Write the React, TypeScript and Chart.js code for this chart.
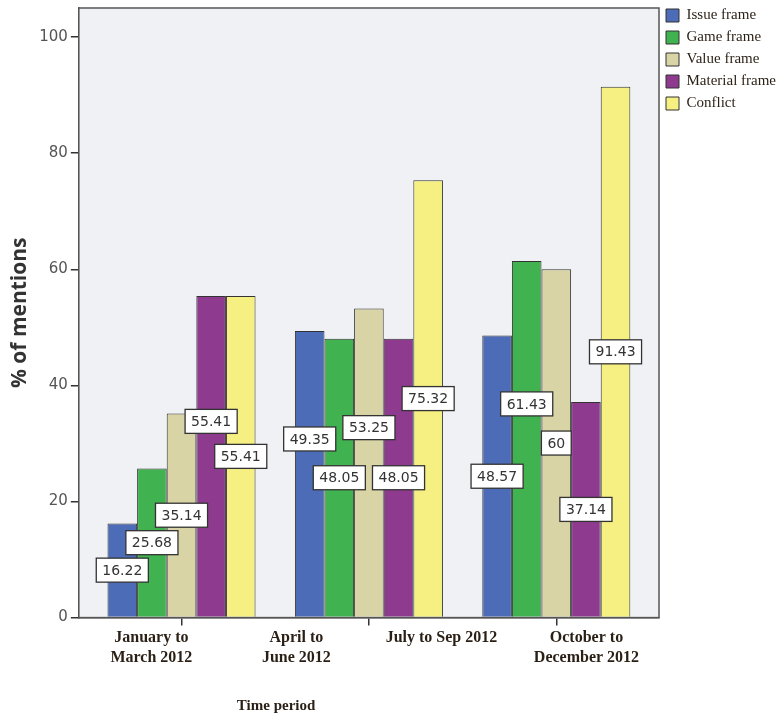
import React, { useEffect, useRef } from 'react';
import { Chart, registerables } from 'chart.js';

Chart.register(...registerables);

// ---- data ----
const periodLabels: string[][] = [
  ['January to', 'March 2012'],
  ['April to', 'June 2012'],
  ['July to Sep 2012'],
  ['October to', 'December 2012'],
];
const groupIndex = [0, 1, 2];
const seriesNames = ['Issue frame', 'Game frame', 'Value frame', 'Material frame', 'Conflict'];
const issueFrame = [16.22, 49.35, 48.57];
const gameFrame = [25.68, 48.05, 61.43];
const valueFrame = [35.14, 53.25, 60];
const materialFrame = [55.41, 48.05, 37.14];
const conflict = [55.41, 75.32, 91.43];
const yTicks = [0, 20, 40, 60, 80, 100];

const seriesValues = [issueFrame, gameFrame, valueFrame, materialFrame, conflict];
const seriesColors = ['#4c6cb7', '#41b250', '#d9d4a5', '#8e3b8f', '#f6ef82'];

const plotFrame = {
  id: 'plotFrame',
  beforeDatasetsDraw(chart: any) {
    const { ctx, chartArea: a } = chart;
    ctx.save();
    ctx.fillStyle = '#eff1f4';
    ctx.fillRect(a.left, a.top, a.right - a.left, a.bottom - a.top);
    ctx.restore();
  },
  afterDatasetsDraw(chart: any) {
    const { ctx, chartArea: a } = chart;
    ctx.save();
    ctx.strokeStyle = '#555';
    ctx.lineWidth = 1.5;
    ctx.strokeRect(a.left, a.top, a.right - a.left, a.bottom - a.top);
    ctx.restore();
  },
};

const valueLabels = {
  id: 'valueLabels',
  afterDatasetsDraw(chart: any) {
    const { ctx } = chart;
    ctx.save();
    ctx.font = '14px "DejaVu Sans"';
    const h = 24;
    const nGroups = groupIndex.length;
    const nSeries = chart.data.datasets.length;
    for (let g = 0; g < nGroups; g++) {
      const placed: { l: number; r: number; t: number; b: number }[] = [];
      for (let s = nSeries - 1; s >= 0; s--) {
        const el = chart.getDatasetMeta(s).data[g];
        const v = seriesValues[s][g];
        const text = String(v);
        const w = ctx.measureText(text).width + 12;
        let cy = (el.y + el.base) / 2;
        const l = el.x - w / 2;
        const r = el.x + w / 2;
        const overlaps = (y: number) =>
          placed.some((p) => l < p.r && r > p.l && y - h / 2 < p.b && y + h / 2 > p.t);
        let guard = 0;
        while (overlaps(cy) && guard < 10) {
          cy -= 35;
          guard++;
        }
        placed.push({ l, r, t: cy - h / 2, b: cy + h / 2 });
        ctx.fillStyle = '#ffffff';
        ctx.fillRect(l, cy - h / 2, w, h);
        ctx.strokeStyle = '#333';
        ctx.lineWidth = 1.3;
        ctx.strokeRect(l, cy - h / 2, w, h);
        ctx.fillStyle = '#333';
        ctx.textAlign = 'center';
        ctx.textBaseline = 'middle';
        ctx.fillText(text, el.x, cy + 1);
      }
    }
    ctx.restore();
  },
};

const axisTitleX = {
  id: 'axisTitleX',
  afterDraw(chart: any) {
    const { ctx, chartArea: a } = chart;
    ctx.save();
    ctx.font = 'bold 15px "Liberation Serif"';
    ctx.fillStyle = '#2a1f14';
    ctx.textAlign = 'center';
    ctx.textBaseline = 'middle';
    ctx.fillText('Time period', a.left + (a.right - a.left) * 0.34, chart.height - 13);
    ctx.restore();
  },
};

export default function App() {
  const ref = useRef<HTMLCanvasElement>(null);
  useEffect(() => {
    if (!ref.current) return;
    const chart = new Chart(ref.current, {
      type: 'bar',
      data: {
        datasets: seriesNames.map((name, s) => ({
          label: name,
          data: groupIndex.map((x, i) => ({ x, y: seriesValues[s][i] })),
          backgroundColor: seriesColors[s],
          borderColor: '#333',
          borderWidth: 1,
          categoryPercentage: 0.79,
          barPercentage: 1,
        })),
      },
      options: {
        animation: false,
        responsive: false,
        devicePixelRatio: 1,
        layout: { padding: { top: 1, left: 0, right: 0, bottom: 49 } },
        plugins: {
          tooltip: { enabled: false },
          legend: {
            position: 'right',
            align: 'start',
            maxWidth: 118,
            labels: {
              boxWidth: 13,
              boxHeight: 13,
              padding: 7,
              color: '#2a1f14',
              font: { family: '"Liberation Serif"', size: 15 },
            },
          },
        },
        scales: {
          x: {
            type: 'linear',
            position: 'bottom',
            min: -0.548,
            max: 2.548,
            offset: false,
            afterBuildTicks: (scale: any) => {
              scale.ticks = groupIndex.map((v) => ({ value: v }));
            },
            ticks: { display: false },
            grid: {
              display: true,
              offset: false,
              drawOnChartArea: false,
              drawTicks: true,
              tickLength: 8,
              color: '#333',
              lineWidth: 1.5,
            },
            border: { display: true, color: '#555', width: 1.5 },
          },
          x2: {
            type: 'category',
            position: 'bottom',
            labels: periodLabels as any,
            offset: true,
            grid: { display: false, drawTicks: false },
            border: { display: false },
            ticks: {
              padding: 3,
              maxRotation: 0,
              autoSkip: false,
              color: '#2a1f14',
              font: { family: '"Liberation Serif"', size: 16, weight: 'bold' },
            },
          },
          y: {
            type: 'linear',
            min: 0,
            max: 105,
            afterBuildTicks: (scale: any) => {
              scale.ticks = yTicks.map((v) => ({ value: v }));
            },
            afterFit: (scale: any) => {
              scale.paddingTop = 8;
              scale.paddingBottom = 0;
            },
            ticks: {
              padding: 3,
              color: '#555',
              font: { family: '"DejaVu Sans"', size: 15 },
            },
            grid: {
              display: true,
              drawOnChartArea: false,
              drawTicks: true,
              tickLength: 8,
              color: '#333',
              lineWidth: 1.5,
            },
            border: { display: true, color: '#555', width: 1.5 },
            title: {
              display: true,
              text: '% of mentions',
              color: '#333',
              font: { family: '"Open Sans"', size: 21, weight: 'bold' },
              padding: { top: 7, bottom: 4 },
            },
          },
        },
      },
      plugins: [plotFrame, valueLabels, axisTitleX],
    } as any);
    return () => chart.destroy();
  }, []);
  return (
    <div style={{ position: 'fixed', left: 0, top: 0, width: 777, height: 719, background: '#fff' }}>
      <canvas ref={ref} width={777} height={719} style={{ display: 'block' }} />
    </div>
  );
}
